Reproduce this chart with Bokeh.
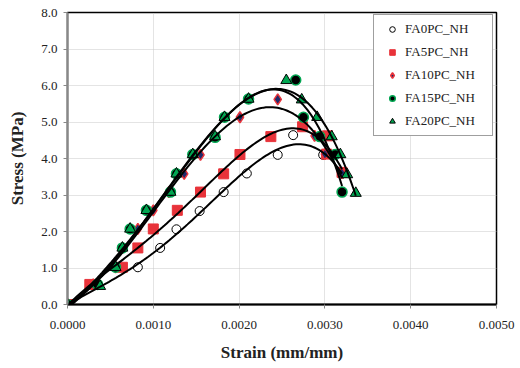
import numpy as np
from bokeh.plotting import figure
from bokeh.models import (Legend, LegendItem, FixedTicker, NumeralTickFormatter, Range1d)
from bokeh.embed import file_html
from bokeh.resources import INLINE

# ---- data (strain mm/mm, stress MPa) ----
fa0_strain = [0.0, 0.00082, 0.00108, 0.00127, 0.00154, 0.00182, 0.00209, 0.00245, 0.00263, 0.00298, 0.00320]
fa0_stress = [0.0, 1.02, 1.55, 2.06, 2.56, 3.08, 3.59, 4.10, 4.64, 4.10, 3.58]

fa5_strain = [0.0, 0.00026, 0.00064, 0.00082, 0.00100, 0.00128, 0.00155, 0.00182, 0.00201, 0.00237, 0.00274, 0.00303, 0.00302, 0.00320]
fa5_stress = [0.0, 0.55, 1.02, 1.55, 2.07, 2.58, 3.08, 3.58, 4.11, 4.60, 4.87, 4.62, 4.12, 3.62]

fa10_strain = [0.0, 0.00030, 0.00056, 0.00064, 0.00082, 0.00100, 0.00118, 0.00136, 0.00155, 0.00201, 0.00245, 0.00288, 0.00300, 0.00320]
fa10_stress = [0.0, 0.55, 1.02, 1.55, 2.07, 2.58, 3.08, 3.58, 4.10, 5.13, 5.62, 4.62, 4.12, 3.60]

fa15_strain = [0.0, 0.00035, 0.00056, 0.00064, 0.00073, 0.00092, 0.00120, 0.00127, 0.00146, 0.00172, 0.00183, 0.00211, 0.00266, 0.00275, 0.00294, 0.00312, 0.00320]
fa15_stress = [0.0, 0.55, 1.02, 1.55, 2.07, 2.58, 3.08, 3.58, 4.11, 4.58, 5.13, 5.63, 6.15, 5.13, 4.60, 4.11, 3.08]

fa20_strain = [0.0, 0.00038, 0.00056, 0.00064, 0.00073, 0.00092, 0.00120, 0.00127, 0.00146, 0.00172, 0.00183, 0.00211, 0.00255, 0.00273, 0.00291, 0.00308, 0.00318, 0.00326, 0.00336]
fa20_stress = [0.0, 0.50, 1.02, 1.55, 2.07, 2.58, 3.08, 3.58, 4.11, 4.60, 5.13, 5.63, 6.14, 5.61, 5.13, 4.60, 4.11, 3.56, 3.05]

series_names = ["FA0PC_NH", "FA5PC_NH", "FA10PC_NH", "FA15PC_NH", "FA20PC_NH"]
x_ticks = [0.0, 0.001, 0.002, 0.003, 0.004, 0.005]
y_ticks = [0, 1, 2, 3, 4, 5, 6, 7, 8]

SERIF = "Liberation Serif"

p = figure(width=520, height=368, output_backend="svg", toolbar_location=None,
           x_range=Range1d(0, 0.005), y_range=Range1d(0, 8),
           min_border_left=67, min_border_right=24, min_border_top=12, min_border_bottom=64)

p.background_fill_color = "white"
p.outline_line_color = "black"
p.outline_line_width = 1.5

# grid
for g in (p.xgrid[0], p.ygrid[0]):
    g.grid_line_color = "#c8c8c8"
    g.grid_line_dash = "1 1"
    g.grid_line_width = 1
p.xgrid[0].ticker = FixedTicker(ticks=x_ticks)
p.ygrid[0].ticker = FixedTicker(ticks=y_ticks)

# axes
xa = p.xaxis[0]
ya = p.yaxis[0]
xa.ticker = FixedTicker(ticks=x_ticks)
ya.ticker = FixedTicker(ticks=y_ticks)
xa.formatter = NumeralTickFormatter(format="0.0000")
ya.formatter = NumeralTickFormatter(format="0.0")
xa.axis_label = "Strain (mm/mm)"
ya.axis_label = "Stress (MPa)"
for ax in (xa, ya):
    ax.major_label_text_font = SERIF
    ax.major_label_text_font_size = "13px"
    ax.major_label_text_color = "#222222"
    ax.axis_label_text_font = SERIF
    ax.axis_label_text_font_size = "17px"
    ax.axis_label_text_font_style = "bold"
    ax.axis_label_text_color = "#222222"
    ax.minor_tick_line_color = None
    ax.major_tick_in = 0
    ax.major_tick_out = 4
xa.axis_line_color = "black"
xa.axis_line_width = 2
xa.major_tick_line_color = "#888888"
xa.major_label_standoff = 12
xa.axis_label_standoff = 11
ya.axis_line_color = "#888888"
ya.axis_line_width = 2
ya.major_tick_line_color = "#888888"
ya.major_label_standoff = 6
ya.axis_label_standoff = 11

xs_all = [fa0_strain, fa5_strain, fa10_strain, fa15_strain, fa20_strain]
ys_all = [fa0_stress, fa5_stress, fa10_stress, fa15_stress, fa20_stress]

styles = [
    dict(marker="circle", size=9, fill_color="white", line_color="black", line_width=1),
    dict(marker="square", size=10, fill_color="#e8333a", line_color="#e8333a", line_width=1),
    dict(marker="diamond", size=11, fill_color="#1f2a6b", line_color="#e8333a", line_width=1.5),
    dict(marker="circle", size=10, fill_color="black", line_color="#00a651", line_width=1.5),
    dict(marker="triangle", size=11, fill_color="#00a651", line_color="black", line_width=1),
]

items = []
for name, xs, ys, st in zip(series_names, xs_all, ys_all, styles):
    r = p.scatter(xs, ys, **st)
    items.append(LegendItem(label=name, renderers=[r]))

# polynomial trendlines (least-squares fit of each series, like the spreadsheet trendline)
for xs, ys in zip(xs_all, ys_all):
    xa_ = np.array(xs)
    coef = np.polyfit(xa_ / 0.001, np.array(ys), 4)
    xx = np.linspace(0, xa_.max(), 120)
    p.line(xx, np.polyval(coef, xx / 0.001), line_color="black", line_width=2)

legend = Legend(items=items, location=(306, 168))
legend.label_text_font = SERIF
legend.label_text_font_size = "13px"
legend.label_text_color = "#222222"
legend.border_line_color = "#404040"
legend.border_line_width = 1
legend.background_fill_color = "white"
legend.background_fill_alpha = 1
legend.padding = 6
legend.spacing = 7
legend.glyph_width = 24
legend.glyph_height = 14
legend.label_height = 14
legend.label_standoff = 1
legend.label_width = 81
legend.margin = 0
p.add_layout(legend, "center")

open("out.html", "w").write(file_html(p, INLINE))
